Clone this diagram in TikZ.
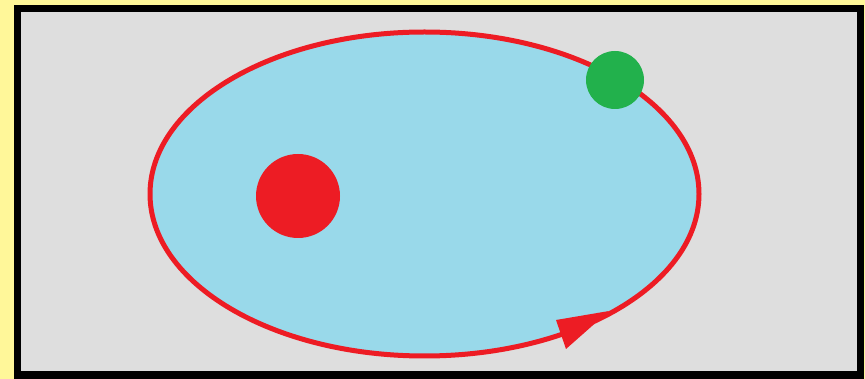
\documentclass[tikz,border=0pt]{standalone}
\definecolor{bgyellow}{HTML}{FFF799}
\definecolor{panelgray}{HTML}{DEDEDE}
\definecolor{skyblue}{HTML}{99D9EA}
\definecolor{paintred}{HTML}{ED1C24}
\definecolor{paintgreen}{HTML}{22B14C}
\begin{document}
\begin{tikzpicture}[x=1pt,y=-1pt,
  orbit/.style={draw=paintred,line width=5pt,fill=skyblue},
  ball/.style={circle,inner sep=0pt}]
\useasboundingbox (0,0) rectangle (865,379);
\fill[bgyellow] (0,0) rectangle (865,379);
\fill[black] (14,5) rectangle (864,379);
\fill[panelgray] (21,12) rectangle (857,371);
\draw[orbit] (424.5,194) ellipse [x radius=274.5, y radius=162];
\node[ball,fill=paintred,minimum size=84pt] (sun) at (298,196) {};
\node[ball,fill=paintgreen,minimum size=58pt] (planet) at (615,80) {};
\fill[paintred] (556,320) -- (566,349) -- (609,311) -- cycle;
\end{tikzpicture}
\end{document}
